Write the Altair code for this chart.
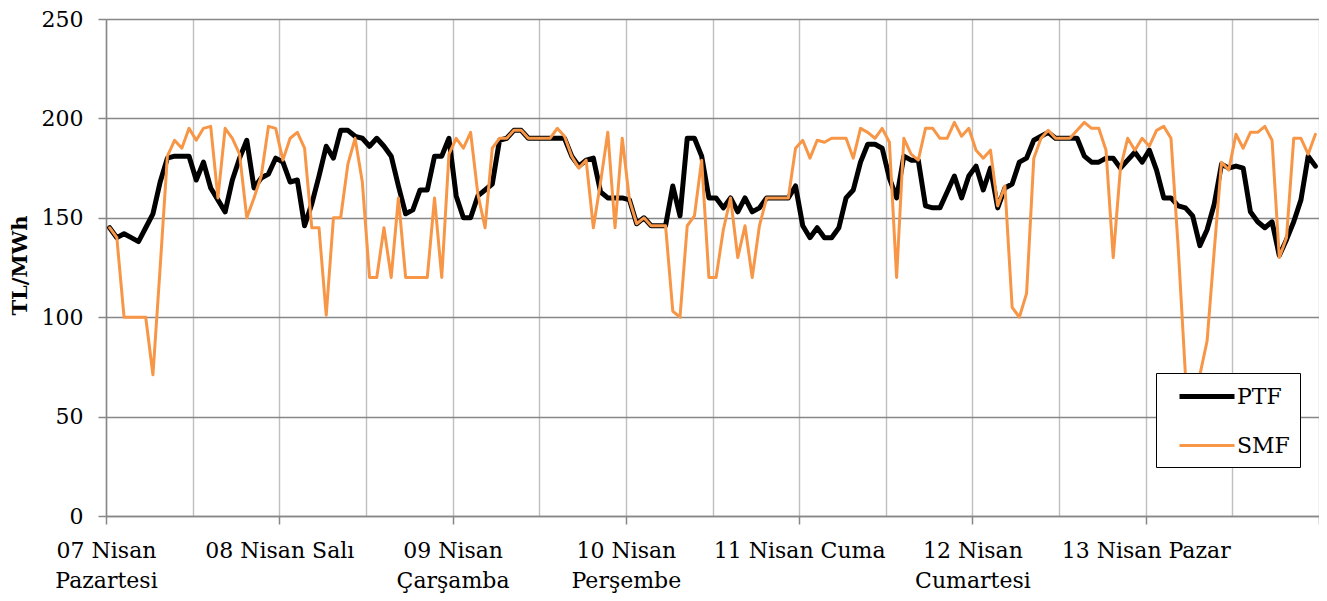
import json
import altair as alt
import pandas as pd

# ---- data ----
day_labels = [
    ["07 Nisan", "Pazartesi"],
    ["08 Nisan Salı"],
    ["09 Nisan", "Çarşamba"],
    ["10 Nisan", "Perşembe"],
    ["11 Nisan Cuma"],
    ["12 Nisan", "Cumartesi"],
    ["13 Nisan Pazar"],
]

ptf = [
    145, 140, 142, 140, 138, 145, 152, 168, 180, 181, 181, 181, 169, 178, 165, 159, 153, 169, 180, 189, 165, 170, 172, 180,
    178, 168, 169, 146, 157, 171, 186, 180, 194, 194, 191, 190, 186, 190, 186, 181, 166, 152, 154, 164, 164, 181, 181, 190,
    161, 150, 150, 161, 164, 167, 189, 190, 194, 194, 190, 190, 190, 190, 190, 190, 181, 176, 179, 180, 163, 160, 160, 160,
    159, 147, 150, 146, 146, 146, 166, 151, 190, 190, 181, 160, 160, 155, 160, 153, 160, 153, 155, 160, 160, 160, 160, 166,
    146, 140, 145, 140, 140, 145, 160, 164, 178, 187, 187, 185, 170, 160, 181, 179, 179, 156, 155, 155, 163, 171, 160, 171,
    176, 164, 175, 155, 165, 167, 178, 180, 189, 191, 193, 190, 190, 190, 190, 181, 178, 178, 180, 180, 175, 179, 183, 178,
    184, 174, 160, 160, 156, 155, 151, 136, 144, 157, 177, 175, 176, 175, 153, 148, 145, 148, 131, 139, 148, 159, 181, 176,
]

# None = hour hidden behind the legend box in the reference (value unreadable)
smf = [
    145, 140, 100, 100, 100, 100, 71, 125, 181, 189, 185, 195, 189, 195, 196, 160, 195, 190, 182, 150, 160, 171, 196, 195,
    179, 190, 193, 185, 145, 145, 101, 150, 150, 177, 190, 168, 120, 120, 145, 120, 160, 120, 120, 120, 120, 160, 120, 182,
    190, 185, 193, 162, 145, 185, 190, 190, 194, 194, 190, 190, 190, 190, 195, 191, 181, 175, 179, 145, 168, 193, 145, 190,
    159, 147, 150, 146, 146, 146, 103, 100, 146, 151, 179, 120, 120, 144, 160, 130, 146, 120, 146, 160, 160, 160, 160, 185,
    189, 180, 189, 188, 190, 190, 190, 180, 195, 193, 190, 195, 188, 120, 190, 182, 179, 195, 195, 190, 190, 198, 191, 195,
    184, 180, 184, 156, 166, 105, 100, 112, 180, 190, 194, 190, 190, 190, 194, 198, 195, 195, 184, 130, 175, 190, 184, 190,
    186, 194, 196, 190, 135, 71, None, 71, 88, 134, 178, 174, 192, 185, 193, 193, 196, 189, 130, 140, 190, 190, 182, 192,
]

y_ticks = [0, 50, 100, 150, 200, 250]
series_names = ["PTF", "SMF"]
series_colors = ["#000000", "#F79646"]
series_widths = [5, 3]
y_title = "TL/MWh"

# ---- table built from the lists ----
n_hours = len(ptf)
df = pd.DataFrame({
    "hour": list(range(n_hours)) * 2,
    "value": ptf + smf,
    "series": [series_names[0]] * n_hours + [series_names[1]] * n_hours,
})
df["pos"] = df["hour"] + 0.5

FONT = "DejaVu Serif"
day_len = 24
label_expr = (
    f"datum.value % {day_len} === 0 && datum.value < {n_hours} ? "
    f"{json.dumps(day_labels, ensure_ascii=False)}[datum.value / {day_len}] : ''"
)

PLOT_TOP = 11
PLOT_H = 497

leg = alt.Legend(
    title=None,
    orient="none",
    legendX=1050,
    legendY=373 - 8 - PLOT_TOP,
    fillColor="white",
    strokeColor="black",
    padding=10,
    symbolType="M0,0H5",
    symbolSize=484,
    symbolOffset=0,
    labelFont=FONT,
    labelFontSize=22,
    labelColor="black",
    labelOffset=44,
    rowPadding=25,
    zindex=2,
)

x_axis = alt.Axis(
    values=list(range(0, n_hours + 1, 12)),
    grid=True,
    gridColor="#BFBFBF",
    gridWidth=1.4,
    domainColor="#878787",
    domainWidth=1.5,
    tickColor="#878787",
    tickWidth=1.5,
    tickSize=8,
    tickOpacity={"condition": {"test": f"datum.value % {day_len} === 0", "value": 1}, "value": 0},
    labelExpr=label_expr,
    labelFont=FONT,
    labelFontSize=22,
    labelColor="black",
    labelLineHeight=30,
    labelPadding=16,
    labelAlign="center",
    labelBaseline="top",
    labelOverlap=False,
    labelFlush=False,
    labelBound=False,
    title=None,
)

y_axis = alt.Axis(
    values=y_ticks,
    grid=True,
    gridColor="#878787",
    gridWidth=1.4,
    domainColor="#878787",
    domainWidth=1.5,
    tickColor="#878787",
    tickWidth=1.5,
    tickSize=8,
    labelFont=FONT,
    labelFontSize=22,
    labelColor="black",
    labelPadding=15,
    format="d",
    title=y_title,
    titleFont=FONT,
    titleFontSize=21,
    titleFontWeight="bold",
    titleColor="black",
    titleAngle=270,
    titleX=-86,
    titleY=265 - 8 - PLOT_TOP,
    titleAlign="center",
    titleBaseline="middle",
)

chart = (
    alt.Chart(df)
    .mark_line(strokeJoin="round", strokeCap="round", invalid="break-paths-filter-domains")
    .encode(
        x=alt.X("pos:Q", scale=alt.Scale(domain=[0, n_hours], nice=False, zero=False), axis=x_axis),
        y=alt.Y("value:Q", scale=alt.Scale(domain=[0, 250], nice=False), axis=y_axis),
        color=alt.Color("series:N", scale=alt.Scale(domain=series_names, range=series_colors), legend=leg),
        strokeWidth=alt.StrokeWidth("series:N", scale=alt.Scale(domain=series_names, range=series_widths), legend=leg),
    )
    .properties(
        width=1213,
        height=PLOT_H,
        autosize=alt.AutoSizeParams(type="none"),
        padding={"left": 98, "top": PLOT_TOP, "right": 0, "bottom": 585 - PLOT_TOP - PLOT_H},
        background="white",
    )
    .configure_view(strokeWidth=0)
)

chart.save("out.html", embed_options={"renderer": "svg", "actions": False})
